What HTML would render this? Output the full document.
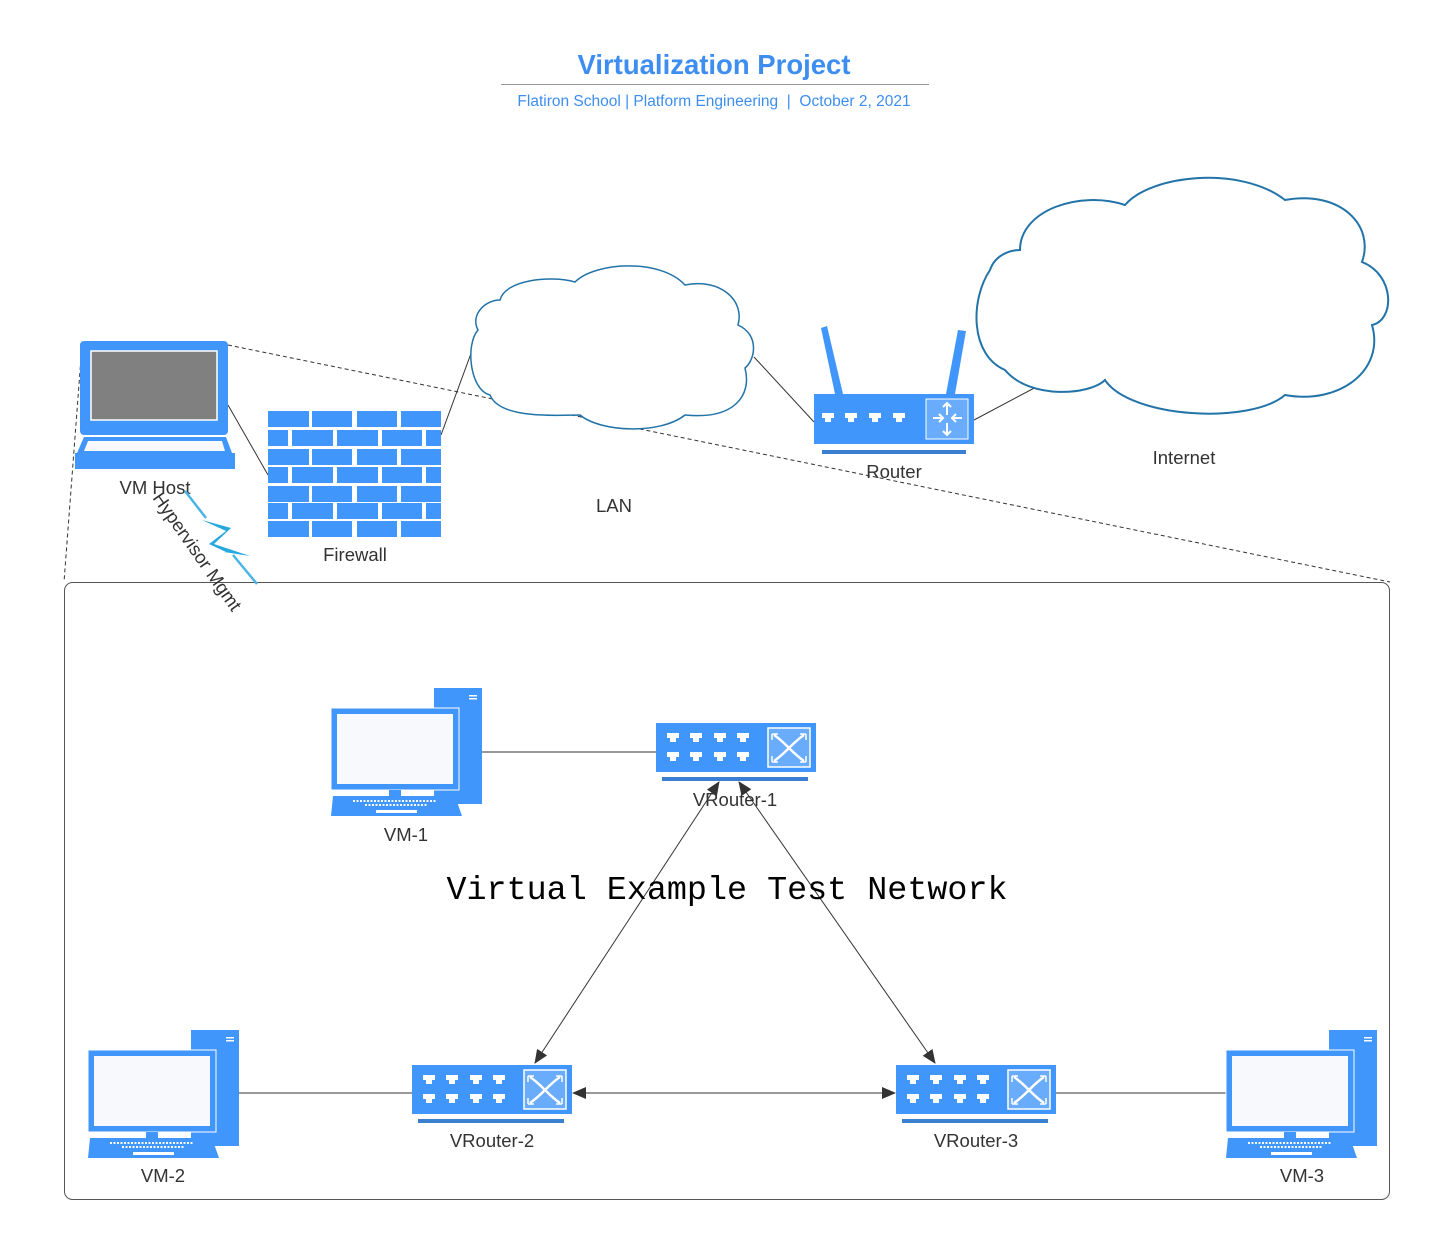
<!DOCTYPE html>
<html><head><meta charset="utf-8"><style>
html,body{margin:0;padding:0;background:#fff;}
svg{display:block;font-family:"Liberation Sans",sans-serif;}
</style></head><body>
<svg width="1453" height="1244" viewBox="0 0 1453 1244" xmlns="http://www.w3.org/2000/svg">
<defs>
  <marker id="ah" markerWidth="14" markerHeight="12" refX="13" refY="6" orient="auto-start-reverse" markerUnits="userSpaceOnUse">
    <path d="M0,0 L14,6 L0,12 Z" fill="#333"/>
  </marker>
  <g id="port"><path d="M0,0 h12 v5 h-3 v4 h-6 v-4 h-3 z" fill="#fff"/></g>
  <g id="switch">
    <rect x="0" y="0" width="160" height="49" fill="#4096fb"/>
    <use href="#port" x="11" y="10"/><use href="#port" x="34" y="10"/><use href="#port" x="58" y="10"/><use href="#port" x="81" y="10"/>
    <use href="#port" x="11" y="29"/><use href="#port" x="34" y="29"/><use href="#port" x="58" y="29"/><use href="#port" x="81" y="29"/>
    <rect x="112" y="5" width="42" height="39" fill="#6aacfc" stroke="#fff" stroke-width="1.5"/>
    <path d="M118,12 C130,20 136,30 148,38 M148,12 C136,20 130,30 118,38" stroke="#fff" stroke-width="2.5" fill="none"/>
    <path d="M116,11 l6,0 M116,11 l0,6 M150,11 l-6,0 M150,11 l0,6 M116,39 l6,0 M116,39 l0,-6 M150,39 l-6,0 M150,39 l0,-6" stroke="#fff" stroke-width="1.5"/>
    <rect x="6" y="54" width="146" height="4" fill="#3a7fd0"/>
  </g>
  <g id="desk">
    <rect x="103" y="0" width="48" height="116" fill="#4096fb"/>
    <rect x="138" y="7" width="8" height="1.5" fill="#fff"/><rect x="138" y="10" width="8" height="1.5" fill="#fff"/>
    <rect x="0" y="20" width="128" height="82" fill="#4096fb" stroke="#fff" stroke-width="1"/>
    <rect x="6" y="26" width="116" height="70" fill="#f7f9fd"/>
    <rect x="58" y="102" width="12" height="6" fill="#4096fb"/>
    <path d="M2,108 H124 L131,128 H0 Z" fill="#4096fb"/>
    <path d="M22,113 H106" stroke="#fff" stroke-width="2" stroke-dasharray="2,1.5"/>
    <path d="M34,117 H96" stroke="#fff" stroke-width="2" stroke-dasharray="2,1.5"/>
    <rect x="45" y="122" width="41" height="3" fill="#fff"/>
  </g>
</defs>

<text x="714" y="74" text-anchor="middle" font-size="27.5" font-weight="bold" fill="#3d8ef0">Virtualization Project</text>
<line x1="501" y1="84.5" x2="929" y2="84.5" stroke="#999" stroke-width="1"/>
<text x="714" y="106" text-anchor="middle" font-size="15.5" fill="#3d8ef0" xml:space="preserve">Flatiron School | Platform Engineering  |  October 2, 2021</text>

<line x1="228" y1="345" x2="1390" y2="582" stroke="#333" stroke-dasharray="4,3"/>
<line x1="82" y1="345" x2="64" y2="582" stroke="#333" stroke-dasharray="4,3"/>

<rect x="64.5" y="582.5" width="1325" height="617" rx="8" fill="none" stroke="#555" stroke-width="1"/>

<line x1="228" y1="405" x2="268" y2="475" stroke="#333"/>
<line x1="441" y1="435" x2="473" y2="348" stroke="#333"/>
<line x1="754" y1="357" x2="814" y2="422" stroke="#333"/>
<line x1="974" y1="420" x2="1040" y2="385" stroke="#333"/>

<rect x="80" y="341" width="148" height="94" rx="4" fill="#4096fb"/>
<rect x="91" y="351" width="126" height="69" fill="#808080" stroke="#fff" stroke-width="1.5"/>
<path d="M84,437 H226 L232,453 H77 Z" fill="#4096fb"/>
<path d="M88,441 H222 L225,451 H84 Z" fill="#f7f9fd"/>
<rect x="75" y="453" width="160" height="16" fill="#4096fb"/>
<text x="155" y="494" text-anchor="middle" font-size="18.5" fill="#333">VM Host</text>

<g fill="#4096fb">
  <rect x="268" y="411" width="41" height="16"/><rect x="312" y="411" width="40" height="16"/><rect x="357" y="411" width="40" height="16"/><rect x="401" y="411" width="40" height="16"/>
  <rect x="268" y="430" width="20" height="16"/><rect x="292" y="430" width="41" height="16"/><rect x="337" y="430" width="41" height="16"/><rect x="382" y="430" width="40" height="16"/><rect x="426" y="430" width="15" height="16"/>
  <rect x="268" y="449" width="41" height="16"/><rect x="312" y="449" width="40" height="16"/><rect x="357" y="449" width="40" height="16"/><rect x="401" y="449" width="40" height="16"/>
  <rect x="268" y="467" width="20" height="16"/><rect x="292" y="467" width="41" height="16"/><rect x="337" y="467" width="41" height="16"/><rect x="382" y="467" width="40" height="16"/><rect x="426" y="467" width="15" height="16"/>
  <rect x="268" y="486" width="41" height="16"/><rect x="312" y="486" width="40" height="16"/><rect x="357" y="486" width="40" height="16"/><rect x="401" y="486" width="40" height="16"/>
  <rect x="268" y="503" width="20" height="16"/><rect x="292" y="503" width="41" height="16"/><rect x="337" y="503" width="41" height="16"/><rect x="382" y="503" width="40" height="16"/><rect x="426" y="503" width="15" height="16"/>
  <rect x="268" y="521" width="41" height="16"/><rect x="312" y="521" width="40" height="16"/><rect x="357" y="521" width="40" height="16"/><rect x="401" y="521" width="40" height="16"/>
</g>
<text x="355" y="561" text-anchor="middle" font-size="18.5" fill="#333">Firewall</text>

<path d="M185,491 L206,518" stroke="#4ab5e6" stroke-width="2.5"/>
<path d="M202,520 L231,528 L214,544 L250,556 L224,552 L226,552 L209,544 L226,531 Z" fill="#27a8df"/>
<path d="M233,555 L257,584" stroke="#4ab5e6" stroke-width="2.5"/>
<text transform="translate(152,498) rotate(55)" font-size="18.5" fill="#333">Hypervisor Mgmt</text>

<path d="M500,300 C505,280 550,275 575,282 C595,262 660,258 685,285 C720,278 745,300 738,325 C760,335 755,360 745,368 C752,395 735,420 685,415 C660,435 600,432 580,415 C560,415 500,420 490,395 C470,390 465,345 478,330 C470,315 485,300 500,300 Z" fill="#fff" stroke="#2273a8" stroke-width="1.5"/>
<text x="614" y="512" text-anchor="middle" font-size="18.5" fill="#333">LAN</text>

<path d="M1020,250 C1020,210 1080,190 1125,205 C1150,175 1240,165 1285,200 C1340,190 1375,225 1362,262 C1395,275 1395,320 1372,325 C1385,370 1340,405 1285,395 C1250,425 1130,418 1105,380 C1090,395 1030,400 1005,370 C970,355 970,300 990,270 C995,255 1010,250 1020,250 Z" fill="#fff" stroke="#2273a8" stroke-width="2"/>
<text x="1184" y="464" text-anchor="middle" font-size="18.5" fill="#333">Internet</text>

<path d="M821,328 L827,326 L843,394 L835,394 Z" fill="#4096fb"/>
<path d="M958,330 L966,331 L955,394 L946,394 Z" fill="#4096fb"/>
<rect x="814" y="394" width="160" height="50" fill="#4096fb"/>
<use href="#port" x="822" y="413"/><use href="#port" x="845" y="413"/><use href="#port" x="869" y="413"/><use href="#port" x="893" y="413"/>
<rect x="926" y="399" width="42" height="40" fill="#6aacfc" stroke="#fff" stroke-width="1"/>
<path d="M947,403 v12 M943,407 l4,-4 l4,4 M947,435 v-12 M943,431 l4,4 l4,-4 M933,418 h10 M939,414 l4,4 l-4,4 M962,418 h-10 M956,414 l-4,4 l4,4" stroke="#fff" stroke-width="2" fill="none"/>
<rect x="822" y="450" width="144" height="4" fill="#3a7fd0"/>
<text x="894" y="478" text-anchor="middle" font-size="18.5" fill="#333">Router</text>

<line x1="482" y1="752" x2="656" y2="752" stroke="#333"/>
<line x1="238" y1="1093" x2="412" y2="1093" stroke="#333"/>
<line x1="1056" y1="1093" x2="1227" y2="1093" stroke="#333"/>

<use href="#desk" x="331" y="688"/>
<use href="#desk" x="88" y="1030"/>
<use href="#desk" x="1226" y="1030"/>
<use href="#switch" x="656" y="723"/>
<use href="#switch" x="412" y="1065"/>
<use href="#switch" x="896" y="1065"/>

<line x1="719" y1="782" x2="535" y2="1063" stroke="#333" marker-start="url(#ah)" marker-end="url(#ah)"/>
<line x1="739" y1="782" x2="935" y2="1063" stroke="#333" marker-start="url(#ah)" marker-end="url(#ah)"/>
<line x1="573" y1="1093" x2="895" y2="1093" stroke="#333" marker-start="url(#ah)" marker-end="url(#ah)"/>

<text x="406" y="841" text-anchor="middle" font-size="18.5" fill="#333">VM-1</text>
<text x="735" y="806" text-anchor="middle" font-size="18.5" fill="#333">VRouter-1</text>
<text x="163" y="1182" text-anchor="middle" font-size="18.5" fill="#333">VM-2</text>
<text x="492" y="1147" text-anchor="middle" font-size="18.5" fill="#333">VRouter-2</text>
<text x="976" y="1147" text-anchor="middle" font-size="18.5" fill="#333">VRouter-3</text>
<text x="1302" y="1182" text-anchor="middle" font-size="18.5" fill="#333">VM-3</text>

<text x="727" y="899" text-anchor="middle" font-family="Liberation Mono, monospace" font-size="33.4" fill="#000">Virtual Example Test Network</text>
</svg>
</body></html>
